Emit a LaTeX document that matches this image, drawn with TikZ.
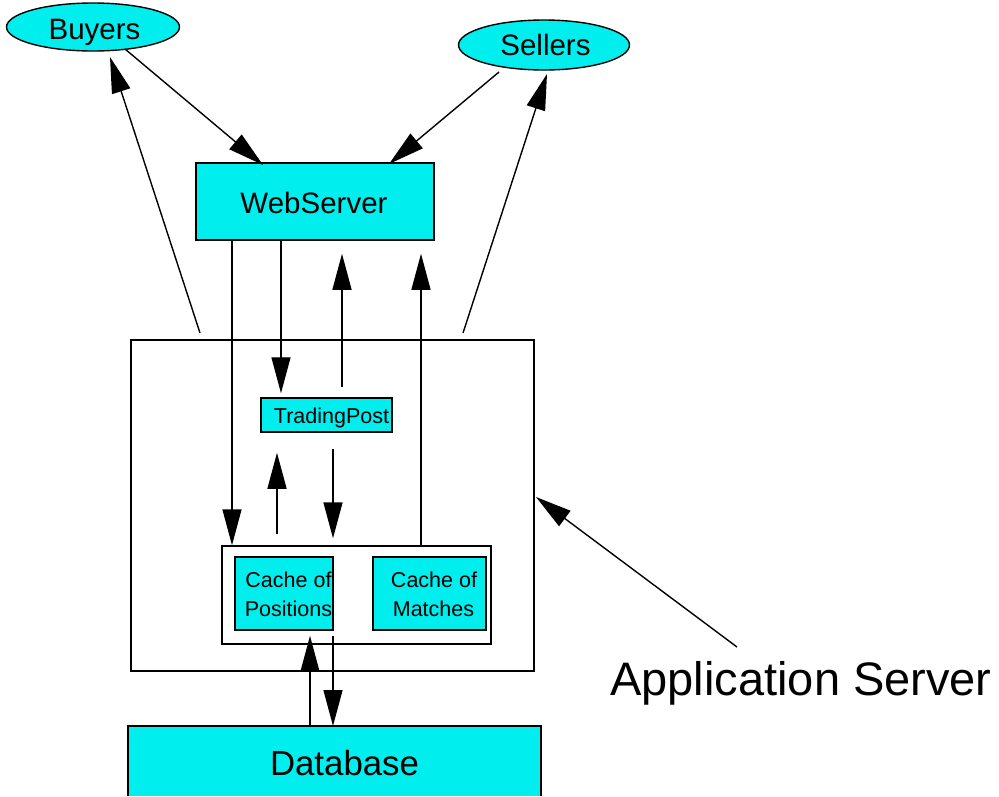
\documentclass[tikz,border=0pt]{standalone}
\usepackage{fontspec}
\setmainfont{Liberation Sans}
\usetikzlibrary{shapes.geometric,arrows.meta,calc}
\definecolor{boxcyan}{RGB}{0,238,238}
\begin{document}
\begin{tikzpicture}[x=1pt,y=-1pt,
  box/.style={draw,fill=boxcyan,line width=1.5pt,inner sep=0pt},
  oval/.style={ellipse,draw,fill=boxcyan,line width=1.4pt,inner sep=0pt},
  frame/.style={draw,line width=1.4pt,inner sep=0pt},
  arr/.style={line width=1.4pt,-{Triangle[length=36pt,width=19pt]}},
  big/.style={font=\fontsize{29.5}{30}\selectfont,anchor=base,inner sep=0pt},
  small/.style={font=\fontsize{21.5}{22}\selectfont,anchor=base,inner sep=0pt},
  huge/.style={font=\fontsize{47}{48}\selectfont,anchor=base,inner sep=0pt}
]
\useasboundingbox (0,0) rectangle (999,796);

% outer application server frame
\node[frame,minimum width=403pt,minimum height=331pt] (app) at (332.5,505.5) {};
% inner cache frame
\node[frame,minimum width=269pt,minimum height=98pt] (inner) at (356.5,595) {};

% ovals
\node[oval,minimum width=173pt,minimum height=48pt] (buy) at (93,27) {};
\node[big] (buyT) at (94.5,39) {Buyers};
\node[oval,minimum width=171pt,minimum height=50pt] (sel) at (544,45) {};
\node[big] (selT) at (545.5,55.5) {Sellers};

% web server
\node[box,minimum width=238pt,minimum height=77pt] (web) at (315,201.5) {};
\node[big] (webT) at (314,213) {WebServer};

% trading post
\node[box,minimum width=131pt,minimum height=34pt] (tp) at (326.5,415) {};
\node[small] (tpT) at (331.5,423) {TradingPost};

% caches
\node[box,minimum width=98pt,minimum height=73pt] (cpos) at (284,593.5) {};
\node[small] (cposA) at (288.5,587) {Cache of};
\node[small] (cposB) at (288.5,616) {Positions};
\node[box,minimum width=113pt,minimum height=73pt] (cmat) at (429.5,593.5) {};
\node[small] (cmatA) at (434,587) {Cache of};
\node[small] (cmatB) at (433.5,616) {Matches};

% database (bottom edge runs off the picture)
\fill[boxcyan] (128,726) rectangle (541,796);
\coordinate (db) at (334.5,726);
\draw[line width=1.5pt] (128,796) -- (128,726) -- (541,726) -- (541,796);
\node[font=\fontsize{34.8}{35}\selectfont,anchor=base,inner sep=0pt] (dbT) at (344.5,775) {Database};

% label
\node[huge] (lbl) at (801,695) {Application Server};

% named connector ends
\coordinate (b1) at (125,49);   \coordinate (w1) at (263,165);
\coordinate (s1) at (499,72);   \coordinate (w2) at (389,164);
\coordinate (a1) at (200,333);  \coordinate (b2) at (110,57);
\coordinate (a2) at (463,333);  \coordinate (s2) at (547,74);
\coordinate (x1) at (232,0);
\coordinate (x2) at (281,0);
\coordinate (x3) at (342,0);
\coordinate (x4) at (421,0);
\coordinate (x5) at (277,0);
\coordinate (x6) at (333,0);
\coordinate (x7) at (310,0);
\coordinate (l1) at (737,647);  \coordinate (a3) at (536,497);

% buyers / sellers <-> web server
\draw[arr] (b1) -- (w1);
\draw[arr] (s1) -- (w2);
\draw[arr] (a1) -- (b2);
\draw[arr] (a2) -- (s2);

% web server <-> application server internals
\draw[arr] (x1 |- web.south) -- (x1 |- inner.north);
\draw[arr] (x2 |- web.south) -- ($(x2 |- tp.north)+(0,-4)$);
\draw[arr] ($(x3 |- tp.north)+(0,-10)$) -- ($(x3 |- web.south)+(0,13)$);
\draw[arr] (x4 |- inner.north) -- ($(x4 |- web.south)+(0,13)$);

% trading post <-> caches
\draw[arr] ($(x5 |- inner.north)+(0,-11)$) -- ($(x5 |- tp.south)+(0,20)$);
\draw[arr] ($(x6 |- tp.south)+(0,16)$) -- ($(x6 |- inner.north)+(0,-7)$);

% caches <-> database
\draw[arr] (x7 |- db) -- ($(x7 |- cpos.south)+(0,5)$);
\draw[arr] ($(x6 |- cpos.south)+(0,5)$) -- (x6 |- db);

% label pointer
\draw[arr] (l1) -- (a3);
\end{tikzpicture}
\end{document}
